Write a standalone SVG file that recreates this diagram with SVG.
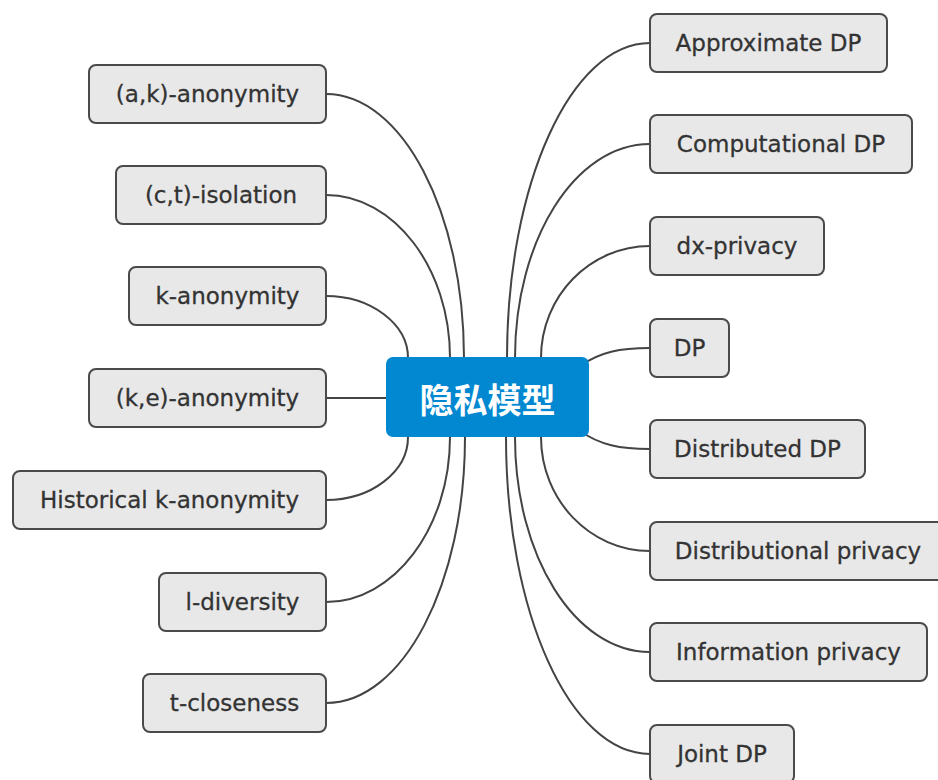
<svg xmlns="http://www.w3.org/2000/svg" width="938" height="780" viewBox="0 0 938 780">
<style>
.n rect{fill:#e8e8e8;stroke:#4a4a4a;stroke-width:2}
.n text{font-family:"DejaVu Sans","Liberation Sans",sans-serif;font-size:23px;fill:#333;text-anchor:middle;stroke:#333;stroke-width:0.3}
.c path{fill:none;stroke:#444;stroke-width:2}
</style>
<rect width="938" height="780" fill="#fff"/>
<g class="c" id="connectors">
<path d="M326,94 C402,94 464,212 464,358 L464,380"/>
<path d="M326,195 C394,195 450,268 450,358 L450,380"/>
<path d="M326,296 C371,296 408,324 408,358 L408,380"/>
<path d="M326,398 L400,398"/>
<path d="M326,500 C371,500 408,472 408,437 L408,415"/>
<path d="M326,602 C394,602 450,528 450,437 L450,415"/>
<path d="M326,703 C403,703 465,584 465,437 L465,415"/>
<path d="M650,43 C571,43 507,184 507,358 L507,380"/>
<path d="M650,144 C575,144 515,240 515,358 L515,380"/>
<path d="M650,246 C590,246 541,296 541,358 L541,380"/>
<path d="M650,348 C620,348 600,352 580,366"/>
<path d="M650,449 C620,449 600,445 580,431"/>
<path d="M650,551 C590,551 541,500 541,437 L541,415"/>
<path d="M650,652 C575,652 515,556 515,437 L515,415"/>
<path d="M650,754 C570,754 506,612 506,437 L506,415"/>
</g>
<g id="center">
<rect x="386" y="357" width="203" height="80" rx="7" fill="#0288d1"/>
<text x="487.5" y="398" font-family="'Noto Sans CJK SC',sans-serif" font-weight="bold" font-size="34" fill="#fff" text-anchor="middle" dominant-baseline="central">隐私模型</text>
</g>
<g class="n" id="n-ak"><rect x="89" y="65" width="237" height="58" rx="7"/><text x="207.5" y="102">(a,k)-anonymity</text></g>
<g class="n" id="n-ct"><rect x="116" y="166" width="210" height="58" rx="7"/><text x="221" y="203">(c,t)-isolation</text></g>
<g class="n" id="n-k"><rect x="129" y="267" width="197" height="58" rx="7"/><text x="227.5" y="304">k-anonymity</text></g>
<g class="n" id="n-ke"><rect x="89" y="369" width="237" height="58" rx="7"/><text x="207.5" y="406">(k,e)-anonymity</text></g>
<g class="n" id="n-hist"><rect x="13" y="471" width="313" height="58" rx="7"/><text x="169.5" y="508">Historical k-anonymity</text></g>
<g class="n" id="n-l"><rect x="159" y="573" width="167" height="58" rx="7"/><text x="242.5" y="610">l-diversity</text></g>
<g class="n" id="n-t"><rect x="143" y="674" width="183" height="58" rx="7"/><text x="234.5" y="711">t-closeness</text></g>
<g class="n" id="n-adp"><rect x="650" y="14" width="237" height="58" rx="7"/><text x="768.5" y="51">Approximate DP</text></g>
<g class="n" id="n-cdp"><rect x="650" y="115" width="262" height="58" rx="7"/><text x="781" y="152">Computational DP</text></g>
<g class="n" id="n-dx"><rect x="650" y="217" width="174" height="58" rx="7"/><text x="737" y="254">dx-privacy</text></g>
<g class="n" id="n-dp"><rect x="650" y="319" width="79" height="58" rx="7"/><text x="689.5" y="356">DP</text></g>
<g class="n" id="n-ddp"><rect x="650" y="420" width="215" height="58" rx="7"/><text x="757.5" y="457">Distributed DP</text></g>
<g class="n" id="n-dist"><rect x="650" y="522" width="300" height="58" rx="7"/><text x="798" y="559">Distributional privacy</text></g>
<g class="n" id="n-info"><rect x="650" y="623" width="277" height="58" rx="7"/><text x="788.5" y="660">Information privacy</text></g>
<g class="n" id="n-joint"><rect x="650" y="725" width="144" height="58" rx="7"/><text x="722" y="762">Joint DP</text></g>
</svg>
